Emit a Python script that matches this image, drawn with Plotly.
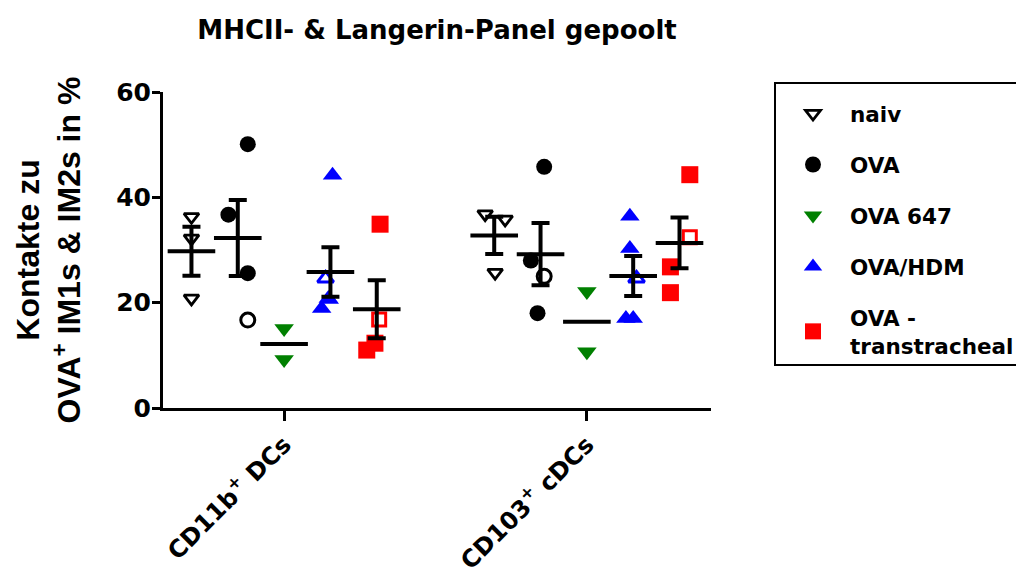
import numpy as np
import plotly.graph_objects as go

categories = ["CD11b<sup>+</sup> DCs", "CD103<sup>+</sup> cDCs"]
groups = ["naiv", "OVA", "OVA 647", "OVA/HDM", "OVA -<br>transtracheal"]
colors = ["#000000", "#000000", "#008000", "#0000FF", "#FF0000"]
symbols = ["triangle-down-open", "circle", "triangle-down", "triangle-up", "square"]
hollow_symbols = ["triangle-down-open", "circle-open", "triangle-down-open", "triangle-up-open", "square-open"]
y_ticks = [0, 20, 40, 60]

# values (%) per group: [CD11b+ DCs, CD103+ cDCs]
naiv = [[36.3, 32.2, 20.8], [36.8, 35.8, 25.7]]
ova = [[36.7, 50.1, 25.6, 16.7], [45.8, 28.0, 25.0, 18.0]]
ova647 = [[15.1, 9.2], [22.1, 10.7]]
ova_hdm = [[44.2, 24.6, 20.8, 20.6, 18.9], [36.4, 30.3, 24.6, 17.0, 17.0]]
ova_tt = [[34.9, 16.8, 12.3, 11.0], [44.3, 32.4, 26.8, 21.9]]

# hollow-marker flags (second experiment) per point
naiv_hollow = [[0, 0, 0], [0, 0, 0]]
ova_hollow = [[0, 0, 0, 1], [0, 0, 1, 0]]
ova647_hollow = [[0, 0], [0, 0]]
ova_hdm_hollow = [[0, 1, 0, 0, 0], [0, 0, 1, 0, 0]]
ova_tt_hollow = [[0, 1, 0, 0], [0, 1, 0, 0]]

# horizontal jitter of each point within its column (x-axis units)
naiv_jit = [[0.0, 0.0, 0.0], [-0.03, 0.036, 0.003]]
ova_jit = [[-0.031, 0.033, 0.033, 0.033], [0.012, -0.032, 0.012, -0.01]]
ova647_jit = [[0.0, 0.0], [0.0, 0.0]]
ova_hdm_jit = [[0.007, -0.016, -0.007, -0.004, -0.029], [-0.011, -0.011, 0.011, -0.024, 0.0]]
ova_tt_jit = [[0.011, 0.008, -0.006, -0.033], [0.034, 0.034, -0.03, -0.03]]

group_offsets = [-0.306, -0.153, 0.0, 0.153, 0.306]
show_sem = [True, True, False, True, True]

data = [naiv, ova, ova647, ova_hdm, ova_tt]
hollow = [naiv_hollow, ova_hollow, ova647_hollow, ova_hdm_hollow, ova_tt_hollow]
jit = [naiv_jit, ova_jit, ova647_jit, ova_hdm_jit, ova_tt_jit]

FONT = "DejaVu Sans"
fig = go.Figure()

filled_size = [13, 16, 17, 17, 17]
hollow_size = [13, 14, 13, 14, 13]

for gi, g in enumerate(groups):
    fx, fy, hx, hy = [], [], [], []
    for ci in range(len(categories)):
        for v, h, j in zip(data[gi][ci], hollow[gi][ci], jit[gi][ci]):
            x = ci + group_offsets[gi] + j
            if h:
                hx.append(x); hy.append(v)
            else:
                fx.append(x); fy.append(v)
    is_open = symbols[gi].endswith("open")
    fig.add_trace(go.Scatter(
        x=fx, y=fy, mode="markers", name=g, legendgroup=g, showlegend=True,
        marker=dict(symbol=symbols[gi], color=colors[gi], size=filled_size[gi],
                    line=dict(color=colors[gi], width=2.8 if is_open else 0)),
        cliponaxis=False, hoverinfo="y"))
    if hx:
        fig.add_trace(go.Scatter(
            x=hx, y=hy, mode="markers", name=g, legendgroup=g, showlegend=False,
            marker=dict(symbol=hollow_symbols[gi], color=colors[gi], size=hollow_size[gi],
                        line=dict(color=colors[gi], width=3)),
            cliponaxis=False, hoverinfo="y"))

# mean +/- SEM
for gi, g in enumerate(groups):
    xs, means, sems = [], [], []
    for ci in range(len(categories)):
        arr = np.array(data[gi][ci], dtype=float)
        xs.append(ci + group_offsets[gi])
        means.append(arr.mean())
        sems.append(arr.std(ddof=1) / np.sqrt(len(arr)))
    fig.add_trace(go.Scatter(
        x=xs, y=means, mode="markers", showlegend=False, legendgroup=g,
        marker=dict(symbol="line-ew", size=34, color="black",
                    line=dict(color="black", width=4)),
        error_y=dict(type="data", array=sems, visible=show_sem[gi],
                     color="black", thickness=4, width=9),
        cliponaxis=False, hoverinfo="y"))

# the page body has an 8px margin: figure is 1016x568 so the window shows it whole
W, H = 1016, 568
ML, MT = 155, 84
PW, PH = 548, 316

fig.update_layout(
    width=W, height=H,
    margin=dict(l=ML, r=W - ML - PW, t=MT, b=H - MT - PH, autoexpand=False),
    paper_bgcolor="white", plot_bgcolor="white",
    title=dict(text="MHCII- & Langerin-Panel gepoolt", x=0.5, xref="paper",
               y=1 - 22 / H, yref="container", yanchor="middle", xanchor="center",
               font=dict(family=FONT, size=26, color="black", weight="bold")),
    xaxis=dict(range=[-0.4, 1.41], tickvals=[0, 1], ticktext=categories,
               tickangle=-45, showline=True, linewidth=3, linecolor="black",
               ticks="outside", ticklen=10, tickwidth=3, tickcolor="black",
               showgrid=False, zeroline=False,
               tickfont=dict(family=FONT, size=24, color="black", weight="bold")),
    yaxis=dict(range=[0, 60], tickvals=y_ticks, showline=True, linewidth=3,
               linecolor="black", ticks="outside", ticklen=8, tickwidth=3,
               tickcolor="black", showgrid=False, zeroline=False,
               ticklabelstandoff=-4,
               tickfont=dict(family=FONT, size=25, color="black", weight="bold"),
               title=dict(text="Kontakte zu<br>OVA<sup>+</sup> IM1s & IM2s in %",
                          standoff=26,
                          font=dict(family="Liberation Sans", size=32, color="black",
                                    weight="bold"))),
    legend=dict(x=(766 - ML) / PW, y=1 + 10 / PH, xanchor="left", yanchor="top",
                bordercolor="black", borderwidth=2, bgcolor="white",
                font=dict(family=FONT, size=21.5, color="black", weight="bold"),
                title=dict(text=" ", font=dict(family=FONT, size=7)),
                tracegroupgap=20, itemwidth=64, traceorder="grouped"),
)

fig.write_html("out.html")
